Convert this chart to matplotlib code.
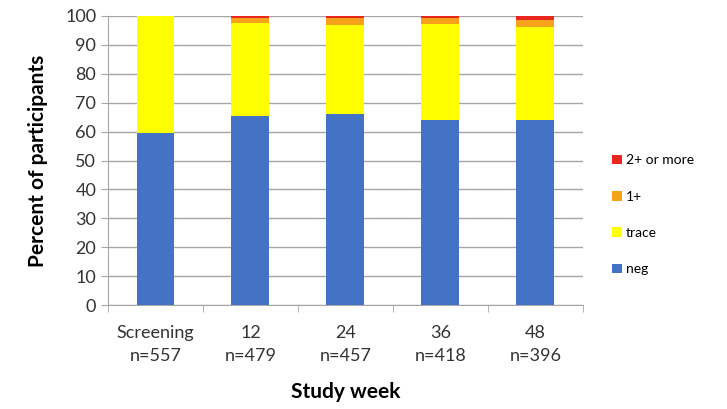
import matplotlib
matplotlib.use("Agg")
import matplotlib.pyplot as plt
import numpy as np

plt.rcParams['font.family'] = ['Lato', 'DejaVu Sans']

categories = ["Screening\nn=557", "12\nn=479", "24\nn=457", "36\nn=418", "48\nn=396"]
neg = [59.6, 65.4, 66.2, 64.0, 64.0]
trace = [40.4, 32.1, 30.6, 33.2, 32.2]
plus1 = [0.0, 1.7, 2.4, 2.0, 2.5]
plus2 = [0.0, 0.8, 0.8, 0.8, 1.3]
series_names = ["neg", "trace", "1+", "2+ or more"]
colors = ["#4472C4", "#FFFF00", "#F7A21B", "#E8261E"]

fig = plt.figure(figsize=(7.27, 4.09), dpi=100)
ax = fig.add_axes([0.1486, 0.254, 0.653, 0.707])

x = np.arange(len(categories))
bottom = np.zeros(len(categories))
handles = []
for vals, name, c in zip([neg, trace, plus1, plus2], series_names, colors):
    b = ax.bar(x, vals, 0.4, bottom=bottom, color=c, label=name, zorder=3)
    handles.append(b)
    bottom += np.array(vals)

ax.set_xlim(-0.5, len(categories) - 0.5)
ax.set_ylim(0, 100)
ax.set_yticks(np.arange(0, 101, 10))
ax.yaxis.grid(True, color="#a6a6a6", linewidth=1, zorder=0)
ax.set_axisbelow(True)

ax.set_xticks(x)
ax.set_xticklabels(categories, fontsize=13, color="#333333", linespacing=1.55)
ax.set_xticks(np.arange(-0.5, len(categories)), minor=True)
ax.tick_params(axis="x", which="major", length=0, pad=14)
ax.tick_params(axis="x", which="minor", length=5, color="#a6a6a6")
ax.tick_params(axis="y", length=5, color="#a6a6a6", labelsize=13, labelcolor="#333333")

for s in ["top", "right"]:
    ax.spines[s].set_visible(False)
for s in ["left", "bottom"]:
    ax.spines[s].set_color("#a6a6a6")

ax.set_xlabel("Study week", fontsize=15, fontweight="bold", labelpad=13)
ax.set_ylabel("Percent of participants", fontsize=15, fontweight="bold", labelpad=12)

leg = fig.legend(handles[::-1], series_names[::-1], loc="upper left",
                 bbox_to_anchor=(0.825, 0.653), frameon=False, fontsize=10,
                 handlelength=0.7, handleheight=0.7, handletextpad=0.3,
                 labelspacing=1.75)

fig.savefig("out.png", dpi=100)
